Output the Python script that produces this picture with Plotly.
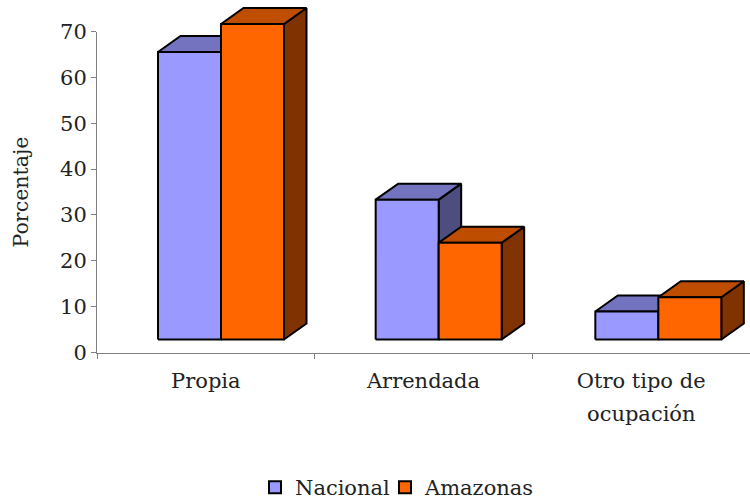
import plotly.graph_objects as go

categories = ["Propia", "Arrendada", "Otro tipo de<br>ocupación"]
y_ticks = [0, 10, 20, 30, 40, 50, 60, 70]
series_names = ["Nacional", "Amazonas"]
nacional = [62.7, 30.5, 6.1]
amazonas = [68.8, 21.1, 9.2]

W, H = 750, 499
X0, XR = 97, 750
Y0, Y70 = 352.5, 31.5
px_per_unit_y = (Y0 - Y70) / 70
px_per_cat = (XR - X0) / 3

bar_w = 63 / px_per_cat
group_start = [61 / px_per_cat, 61 / px_per_cat, 63 / px_per_cat]
dx = 22.5 / px_per_cat
dy = 16 / px_per_unit_y
floor = 13 / px_per_unit_y
y2_top = Y0 / px_per_unit_y

front = ["#9999FF", "#FF6600"]
top = ["#7373BF", "#BF4D00"]
side = ["#4D4D80", "#803300"]
font = "DejaVu Serif"
ink = "#222222"

fig = go.Figure()


def poly(xs, ys, color):
    fig.add_trace(go.Scatter(
        x=xs + xs[:1], y=ys + ys[:1], mode="lines", fill="toself", fillcolor=color,
        line=dict(color="black", width=2), xaxis="x2", yaxis="y2",
        showlegend=False, hoverinfo="skip"))


for c in range(len(categories)):
    for s, values in enumerate([nacional, amazonas]):
        v = values[c]
        x1 = c + group_start[c] + s * bar_w
        x2 = x1 + bar_w
        b = floor
        t = floor + v
        poly([x2, x2 + dx, x2 + dx, x2], [b, b + dy, t + dy, t], side[s])
        poly([x1, x1 + dx, x2 + dx, x2], [t, t + dy, t + dy, t], top[s])
        poly([x1, x2, x2, x1], [b, b, t, t], front[s])

legend_ids = ["legend", "legend2"]
for name, color, lid in zip(series_names, front, legend_ids):
    fig.add_trace(go.Bar(x=[None], y=[None], name=name, legend=lid,
                         marker=dict(color=color, line=dict(color="black", width=2)),
                         xaxis="x2", yaxis="y2"))

# invisible traces so that the visible axes are drawn
fig.add_trace(go.Scatter(x=[0.5, 1.5, 2.5], y=[0, 0, 0], xaxis="x", yaxis="y", mode="markers",
                         marker=dict(opacity=0), showlegend=False, hoverinfo="skip"))
fig.add_trace(go.Scatter(x=[0.5, 1.5, 2.5], y=[0, 0, 0], xaxis="x3", yaxis="y", mode="markers",
                         marker=dict(opacity=0), showlegend=False, hoverinfo="skip"))

first_lines = [c.split("<br>")[0] for c in categories]
second_lines = [(i, c.split("<br>")[1]) for i, c in enumerate(categories) if "<br>" in c]

dom_y0 = (H - Y0) / H
legend_common = dict(orientation="h", xanchor="left", y=1 - 467 / H, yanchor="top",
                     font=dict(size=21), itemwidth=30, bgcolor="rgba(0,0,0,0)")
fig.update_layout(
    width=W, height=H, margin=dict(l=0, r=0, t=0, b=0, pad=0, autoexpand=False),
    paper_bgcolor="white", plot_bgcolor="rgba(0,0,0,0)",
    font=dict(family=font, size=20, color=ink),
    showlegend=True,
    legend=dict(x=255 / W, **legend_common),
    legend2=dict(x=385 / W, **legend_common),
    xaxis=dict(domain=[X0 / W, 1], range=[0, 3], tickvals=[0, 1, 2, 3], ticktext=["", "", "", ""],
               ticks="outside", ticklen=5, tickcolor="#808080", showgrid=False, zeroline=False,
               showline=True, linecolor="#808080", linewidth=1, anchor="y"),
    yaxis=dict(domain=[dom_y0, (H - Y70) / H], range=[0, 70], tickvals=y_ticks,
               ticks="outside", ticklen=5, tickcolor="#808080", showgrid=False, zeroline=False,
               showline=True, linecolor="#808080", linewidth=1, anchor="x", tickfont=dict(size=21),
               title=dict(text="Porcentaje", font=dict(size=20.5), standoff=25)),
    xaxis2=dict(domain=[X0 / W, 1], range=[0, 3], anchor="y2", visible=False),
    yaxis2=dict(domain=[dom_y0, 1], range=[0, y2_top], anchor="x2", visible=False),
    xaxis3=dict(domain=[X0 / W, 1], range=[0, 3], overlaying="x", anchor="y", side="bottom",
                tickvals=[0.5, 1.5, 2.5], ticktext=first_lines, ticks="", showgrid=False,
                zeroline=False, showline=False, tickfont=dict(size=21), ticklabelstandoff=13,
                tickangle=0),
)

for i, text in second_lines:
    fig.add_annotation(text=text, xref="x3", x=i + 0.5, yref="paper", y=1 - 414 / H,
                       yanchor="middle", showarrow=False, font=dict(size=21))

fig.write_html("out.html", config=dict(displayModeBar=False),
               post_script="document.body.style.margin='0';")
